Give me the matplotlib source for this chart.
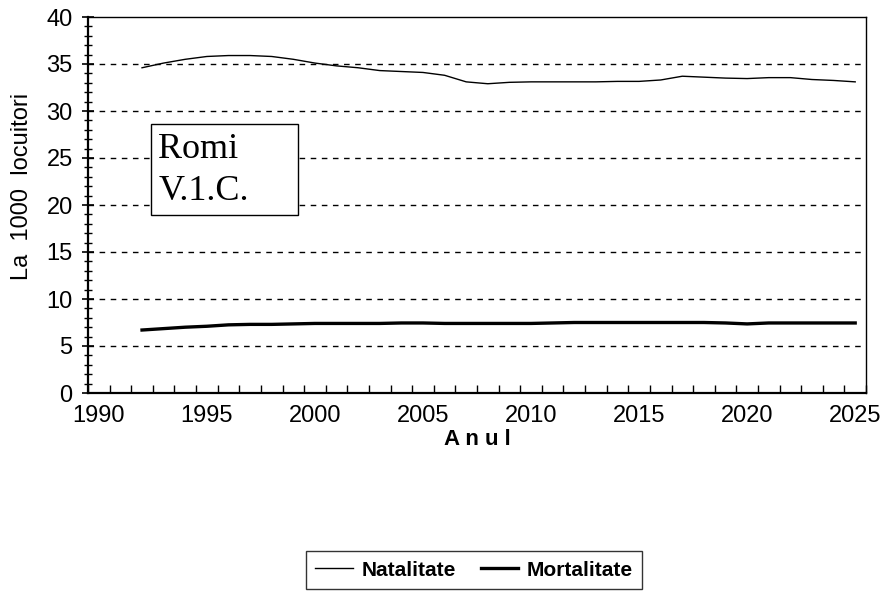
import matplotlib
matplotlib.use("Agg")
from matplotlib import pyplot as plt
from matplotlib.patches import Rectangle
from matplotlib.ticker import MultipleLocator

years = list(range(1992, 2026))
natalitate = [34.6, 35.1, 35.5, 35.8, 35.9, 35.9, 35.8, 35.5, 35.1, 34.8,
              34.6, 34.3, 34.2, 34.1, 33.8, 33.1, 32.9, 33.05, 33.1, 33.1,
              33.1, 33.1, 33.15, 33.15, 33.3, 33.7, 33.6, 33.5, 33.45, 33.55,
              33.55, 33.35, 33.25, 33.1]
mortalitate = [6.7, 6.85, 7.0, 7.1, 7.25, 7.3, 7.3, 7.35, 7.4, 7.4,
               7.4, 7.4, 7.45, 7.45, 7.4, 7.4, 7.4, 7.4, 7.4, 7.45,
               7.5, 7.5, 7.5, 7.5, 7.5, 7.5, 7.5, 7.45, 7.35, 7.45,
               7.45, 7.45, 7.45, 7.45]
year_labels = [1990, 1995, 2000, 2005, 2010, 2015, 2020, 2025]

plt.rcParams['font.family'] = ['Liberation Sans', 'DejaVu Sans']

fig = plt.figure(figsize=(8.84, 5.96), dpi=100)
ax = fig.add_axes([88 / 884, 1 - 393 / 596, (866 - 88) / 884, (393 - 17) / 596])

ax.plot(years, natalitate, color='black', lw=1.0, label='Natalitate')
ax.plot(years, mortalitate, color='black', lw=2.4, label='Mortalitate')

ax.set_xlim(1989.5, 2025.5)
ax.set_ylim(0, 40)
ax.set_xticks(year_labels)
ax.set_xticklabels([str(y) for y in year_labels])
ax.xaxis.set_minor_locator(MultipleLocator(1, offset=0.5))
ax.yaxis.set_major_locator(MultipleLocator(5))
ax.yaxis.set_minor_locator(MultipleLocator(1))
ax.tick_params(axis='x', which='major', length=0, labelsize=17, pad=9)
ax.tick_params(axis='x', which='minor', direction='in', length=6, width=1)
ax.tick_params(axis='y', which='major', direction='inout', length=8, width=1.2,
               labelsize=17, pad=7)
ax.tick_params(axis='y', which='minor', direction='inout', length=6, width=1)

for v in range(5, 40, 5):
    ax.axhline(v, color='black', lw=1, ls=(0, (4, 4)), zorder=0)

for side in ['top', 'right']:
    ax.spines[side].set_linewidth(1.0)
for side in ['left', 'bottom']:
    ax.spines[side].set_linewidth(1.6)

ax.set_ylabel('La  1000  locuitori', fontsize=17)
ax.yaxis.set_label_coords(-0.071, 0.55)
ax.set_xlabel('A n u l', fontsize=16, fontweight='bold', labelpad=1)

# text box
ax.add_patch(Rectangle((1992.4, 18.95), 6.8, 9.7, fc='white', ec='black',
                       lw=1.0, zorder=3))
ax.text(1992.75, 25.0, 'Romi', fontsize=26, family='Liberation Serif',
        va='baseline', ha='left', zorder=4)
ax.text(1992.75, 20.5, 'V.1.C.', fontsize=26, family='Liberation Serif',
        va='baseline', ha='left', zorder=4)

fig.legend(loc='center', bbox_to_anchor=(474 / 884, 1 - 570 / 596), ncol=2,
           frameon=True, fancybox=False, edgecolor='black',
           handlelength=1.8, handletextpad=0.4, columnspacing=1.2,
           borderpad=0.45, prop={'weight': 'bold', 'size': 15})

fig.savefig('out.png', dpi=100)
